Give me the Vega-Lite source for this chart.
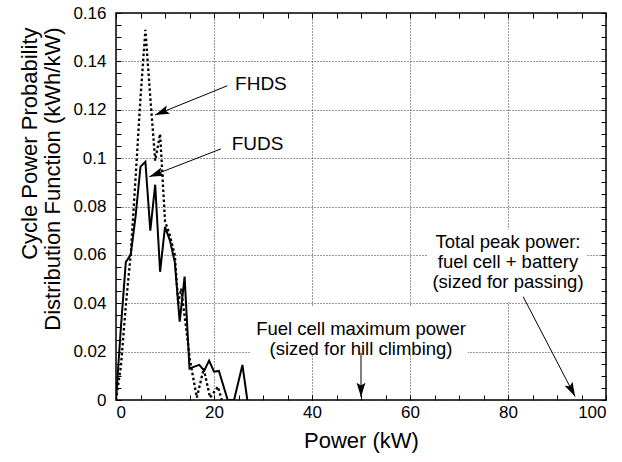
{
  "$schema": "https://vega.github.io/schema/vega-lite/v6.json",
  "width": 490,
  "height": 387,
  "autosize": "none",
  "padding": {"left": 116, "top": 13, "right": 16, "bottom": 62},
  "background": "white",
  "config": {
    "font": "Liberation Sans",
    "view": {"stroke": "black", "strokeWidth": 1.5},
    "axis": {
      "gridColor": "#333333",
      "gridDash": [1, 2],
      "gridWidth": 1,
      "gridOpacity": 1,
      "labelColor": "black",
      "titleColor": "black",
      "tickColor": "black",
      "tickWidth": 1
    }
  },
  "datasets": {
    "fuds": [
      {"power": 0, "pdf": 0},
      {"power": 1, "pdf": 0.03},
      {"power": 2, "pdf": 0.057},
      {"power": 3, "pdf": 0.06},
      {"power": 4, "pdf": 0.076},
      {"power": 5, "pdf": 0.0965},
      {"power": 6, "pdf": 0.0985},
      {"power": 7, "pdf": 0.07},
      {"power": 8, "pdf": 0.089},
      {"power": 9, "pdf": 0.053},
      {"power": 10, "pdf": 0.0716},
      {"power": 11, "pdf": 0.066},
      {"power": 12, "pdf": 0.057},
      {"power": 13, "pdf": 0.0324},
      {"power": 14, "pdf": 0.051},
      {"power": 15, "pdf": 0.013},
      {"power": 16, "pdf": 0.0138},
      {"power": 17, "pdf": 0.0145},
      {"power": 18, "pdf": 0.0121},
      {"power": 19, "pdf": 0.0163},
      {"power": 20, "pdf": 0.0117},
      {"power": 21, "pdf": 0.012},
      {"power": 22.8, "pdf": 0},
      {"power": 24.1, "pdf": 0},
      {"power": 25.8, "pdf": 0.0145},
      {"power": 26.8, "pdf": 0}
    ],
    "fhds": [
      {"power": 0, "pdf": 0},
      {"power": 1, "pdf": 0.014},
      {"power": 2, "pdf": 0.039},
      {"power": 3, "pdf": 0.06},
      {"power": 4, "pdf": 0.092},
      {"power": 5, "pdf": 0.125},
      {"power": 6, "pdf": 0.153},
      {"power": 7, "pdf": 0.125},
      {"power": 8, "pdf": 0.099},
      {"power": 9, "pdf": 0.11},
      {"power": 10, "pdf": 0.074},
      {"power": 11, "pdf": 0.068},
      {"power": 12, "pdf": 0.06},
      {"power": 12.7, "pdf": 0.04},
      {"power": 13.3, "pdf": 0.046},
      {"power": 14.3, "pdf": 0.03},
      {"power": 15.1, "pdf": 0.0165},
      {"power": 16.5, "pdf": 0.001},
      {"power": 17.9, "pdf": 0.013},
      {"power": 19.2, "pdf": 0.001},
      {"power": 20.8, "pdf": 0.0055},
      {"power": 21.6, "pdf": 0}
    ],
    "series_labels": [
      {"label": "FHDS", "power": 24.3, "pdf": 0.1306},
      {"label": "FUDS", "power": 23.6, "pdf": 0.1058}
    ],
    "note_boxes": [
      {"note": "fuel cell", "power": 27.3, "power_end": 71.8, "pdf": 0.019, "pdf_end": 0.0385},
      {"note": "total", "power": 63.5, "power_end": 96, "pdf": 0.0405, "pdf_end": 0.0705}
    ],
    "notes": [
      {"line": "Fuel cell maximum power", "power": 50, "pdf": 0.0269},
      {"line": "(sized for hill climbing)", "power": 50, "pdf": 0.0186},
      {"line": "Total peak power:", "power": 80, "pdf": 0.0627},
      {"line": "fuel cell + battery", "power": 80, "pdf": 0.0544},
      {"line": "(sized for passing)", "power": 80, "pdf": 0.0462}
    ],
    "arrows": [
      {"name": "FHDS", "power": 22.7, "pdf": 0.1299, "power_end": 7.96, "pdf_end": 0.1178},
      {"name": "FUDS", "power": 21.4, "pdf": 0.1038, "power_end": 6.8, "pdf_end": 0.0923},
      {"name": "fuel cell", "power": 50, "pdf": 0.0195, "power_end": 50, "pdf_end": 0.0012},
      {"name": "total", "power": 83.1, "pdf": 0.0427, "power_end": 93.7, "pdf_end": 0.0014}
    ]
  },
  "layer": [
    {
      "data": {"name": "note_boxes"},
      "mark": {"type": "rect", "color": "white", "opacity": 1},
      "encoding": {
        "x": {
          "field": "power", "type": "quantitative",
          "scale": {"domain": [0, 100], "nice": false},
          "axis": {
            "orient": "bottom", "values": [0, 20, 40, 60, 80, 100],
            "grid": true, "ticks": false, "domain": false,
            "labelFontSize": 17, "labelPadding": 4,
            "title": "Power (kW)", "titleFontSize": 22, "titleFontWeight": "normal",
            "titleBaseline": "alphabetic", "titleY": 47
          }
        },
        "x2": {"field": "power_end"},
        "y": {
          "field": "pdf", "type": "quantitative",
          "scale": {"domain": [0, 0.16], "nice": false},
          "axis": {
            "orient": "left", "values": [0, 0.02, 0.04, 0.06, 0.08, 0.1, 0.12, 0.14, 0.16],
            "format": "~g",
            "grid": true, "ticks": false, "domain": false,
            "labelFontSize": 17, "labelPadding": 10,
            "title": ["Cycle Power Probability", "Distribution Function (kWh/kW)"],
            "titleFontSize": 22, "titleFontWeight": "normal",
            "titleAngle": 270, "titleAlign": "right", "titleBaseline": "top",
            "titleLineHeight": 23, "titleX": -97, "titleY": 14
          }
        },
        "y2": {"field": "pdf_end"}
      }
    },
    {
      "data": {"name": "fuds"},
      "mark": {"type": "line", "color": "black", "strokeWidth": 2, "clip": true},
      "encoding": {
        "x": {
          "field": "power", "type": "quantitative",
          "scale": {"domain": [0, 100], "nice": false},
          "axis": {
            "orient": "bottom",
            "values": [0, 5, 10, 15, 20, 25, 30, 35, 40, 45, 50, 55, 60, 65, 70, 75, 80, 85, 90, 95, 100],
            "tickSize": -5, "labels": false, "grid": false, "domain": false, "title": null
          }
        },
        "y": {
          "field": "pdf", "type": "quantitative",
          "scale": {"domain": [0, 0.16], "nice": false},
          "axis": {
            "orient": "left",
            "values": [0, 0.005, 0.01, 0.015, 0.02, 0.025, 0.03, 0.035, 0.04, 0.045, 0.05, 0.055, 0.06, 0.065, 0.07, 0.075, 0.08, 0.085, 0.09, 0.095, 0.1, 0.105, 0.11, 0.115, 0.12, 0.125, 0.13, 0.135, 0.14, 0.145, 0.15, 0.155, 0.16],
            "tickSize": -5, "labels": false, "grid": false, "domain": false, "title": null
          }
        }
      }
    },
    {
      "data": {"name": "fhds"},
      "mark": {"type": "line", "color": "black", "strokeWidth": 2.3, "strokeDash": [2.5, 2.5], "clip": true},
      "encoding": {
        "x": {
          "field": "power", "type": "quantitative",
          "scale": {"domain": [0, 100], "nice": false},
          "axis": {
            "orient": "top",
            "values": [0, 5, 10, 15, 20, 25, 30, 35, 40, 45, 50, 55, 60, 65, 70, 75, 80, 85, 90, 95, 100],
            "tickSize": -5, "labels": false, "grid": false, "domain": false, "title": null
          }
        },
        "y": {
          "field": "pdf", "type": "quantitative",
          "scale": {"domain": [0, 0.16], "nice": false},
          "axis": {
            "orient": "right",
            "values": [0, 0.005, 0.01, 0.015, 0.02, 0.025, 0.03, 0.035, 0.04, 0.045, 0.05, 0.055, 0.06, 0.065, 0.07, 0.075, 0.08, 0.085, 0.09, 0.095, 0.1, 0.105, 0.11, 0.115, 0.12, 0.125, 0.13, 0.135, 0.14, 0.145, 0.15, 0.155, 0.16],
            "tickSize": -5, "labels": false, "grid": false, "domain": false, "title": null
          }
        }
      }
    },
    {
      "data": {"name": "series_labels"},
      "mark": {"type": "text", "align": "left", "baseline": "middle", "fontSize": 19, "color": "black"},
      "encoding": {
        "x": {"field": "power", "type": "quantitative", "scale": {"domain": [0, 100], "nice": false}, "axis": null},
        "y": {"field": "pdf", "type": "quantitative", "scale": {"domain": [0, 0.16], "nice": false}, "axis": null},
        "text": {"field": "label"}
      }
    },
    {
      "data": {"name": "notes"},
      "mark": {"type": "text", "align": "center", "baseline": "alphabetic", "fontSize": 18.5, "color": "black"},
      "encoding": {
        "x": {"field": "power", "type": "quantitative", "scale": {"domain": [0, 100], "nice": false}, "axis": null},
        "y": {"field": "pdf", "type": "quantitative", "scale": {"domain": [0, 0.16], "nice": false}, "axis": null},
        "text": {"field": "line"}
      }
    },
    {
      "data": {"name": "arrows"},
      "mark": {"type": "rule", "color": "black", "strokeWidth": 1},
      "encoding": {
        "x": {"field": "power", "type": "quantitative", "scale": {"domain": [0, 100], "nice": false}, "axis": null},
        "y": {"field": "pdf", "type": "quantitative", "scale": {"domain": [0, 0.16], "nice": false}, "axis": null},
        "x2": {"field": "power_end"},
        "y2": {"field": "pdf_end"}
      }
    },
    {
      "data": {"name": "arrows"},
      "transform": [{"filter": "datum.name === 'FHDS'"}],
      "mark": {"type": "point", "shape": "M0,0L-0.55,1.8L0,1.45L0.55,1.8Z", "filled": true, "color": "black", "opacity": 1, "size": 256, "angle": 248},
      "encoding": {
        "x": {"field": "power_end", "type": "quantitative", "scale": {"domain": [0, 100], "nice": false}, "axis": null},
        "y": {"field": "pdf_end", "type": "quantitative", "scale": {"domain": [0, 0.16], "nice": false}, "axis": null}
      }
    },
    {
      "data": {"name": "arrows"},
      "transform": [{"filter": "datum.name === 'FUDS'"}],
      "mark": {"type": "point", "shape": "M0,0L-0.55,1.8L0,1.45L0.55,1.8Z", "filled": true, "color": "black", "opacity": 1, "size": 256, "angle": 249},
      "encoding": {
        "x": {"field": "power_end", "type": "quantitative", "scale": {"domain": [0, 100], "nice": false}, "axis": null},
        "y": {"field": "pdf_end", "type": "quantitative", "scale": {"domain": [0, 0.16], "nice": false}, "axis": null}
      }
    },
    {
      "data": {"name": "arrows"},
      "transform": [{"filter": "datum.name === 'fuel cell'"}],
      "mark": {"type": "point", "shape": "M0,0L-0.55,1.8L0,1.45L0.55,1.8Z", "filled": true, "color": "black", "opacity": 1, "size": 256, "angle": 180},
      "encoding": {
        "x": {"field": "power_end", "type": "quantitative", "scale": {"domain": [0, 100], "nice": false}, "axis": null},
        "y": {"field": "pdf_end", "type": "quantitative", "scale": {"domain": [0, 0.16], "nice": false}, "axis": null}
      }
    },
    {
      "data": {"name": "arrows"},
      "transform": [{"filter": "datum.name === 'total'"}],
      "mark": {"type": "point", "shape": "M0,0L-0.55,1.8L0,1.45L0.55,1.8Z", "filled": true, "color": "black", "opacity": 1, "size": 256, "angle": 153},
      "encoding": {
        "x": {"field": "power_end", "type": "quantitative", "scale": {"domain": [0, 100], "nice": false}, "axis": null},
        "y": {"field": "pdf_end", "type": "quantitative", "scale": {"domain": [0, 0.16], "nice": false}, "axis": null}
      }
    }
  ],
  "resolve": {"axis": {"x": "independent", "y": "independent"}}
}
